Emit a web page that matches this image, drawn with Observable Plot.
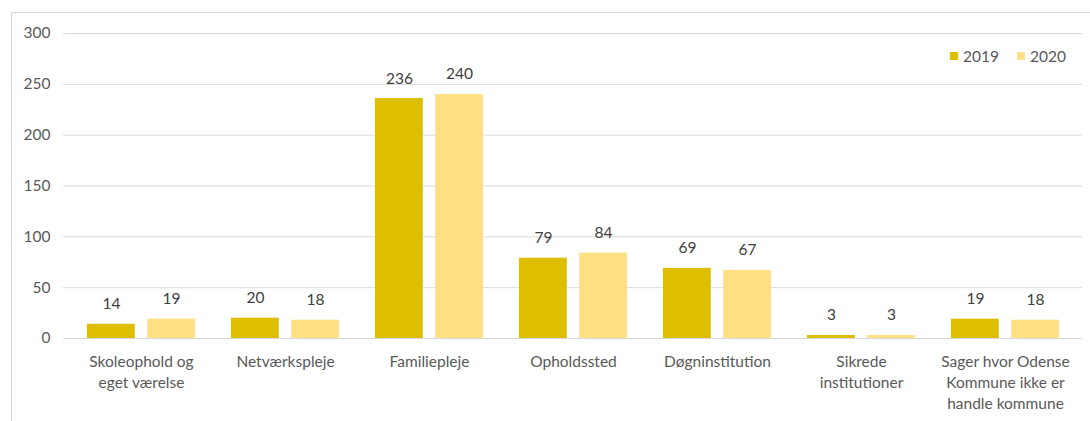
<!DOCTYPE html>
<html><head><meta charset="utf-8">
<script src="https://cdn.jsdelivr.net/npm/d3@7"></script>
<script src="https://cdn.jsdelivr.net/npm/@observablehq/plot@0.6"></script>
<style>
body{margin:0;background:#fff;}
#wrap{position:relative;width:1090px;height:421px;overflow:hidden;font-family:Lato,"Open Sans",sans-serif;}
#frame{position:absolute;left:11px;top:12px;width:1090px;height:421px;border:1px solid #d9d9d9;box-sizing:border-box;}
#chart{position:absolute;left:0;top:0;}
#legend{position:absolute;top:47px;left:950px;font-size:15.5px;color:#595959;display:flex;align-items:center;}
#legend .item{display:flex;align-items:center;margin-right:18px;}
#legend .sw{width:8px;height:8px;margin-right:5px;display:inline-block;}
</style>
</head><body>
<div id="wrap"><div id="frame"></div><div id="chart"></div><div id="legend"></div></div>
<script>
const categories = ["Skoleophold og eget værelse","Netværkspleje","Familiepleje","Opholdssted","Døgninstitution","Sikrede institutioner","Sager hvor Odense Kommune ikke er handle kommune"];
const categoryLabels = ["Skoleophold og\neget værelse","Netværkspleje","Familiepleje","Opholdssted","Døgninstitution","Sikrede\ninstitutioner","Sager hvor Odense\nKommune ikke er\nhandle kommune"];
const years = ["2019","2020"];
const values2019 = [14,20,236,79,69,3,19];
const values2020 = [19,18,240,84,67,3,18];
const yTicks = [0,50,100,150,200,250,300];
const colors = ["#DDBE00","#FFE085"];

const W = 1090, H = 421, mL = 63, mR = 8, mT = 33, mB = 83;
const pIn = 0.25, pOut = 0.15, gap = 12;
const FS = 15.5;
const band = d3.scaleBand().domain(categories).range([mL, W - mR]).paddingInner(pIn).paddingOuter(pOut);
const bw = band.bandwidth();
const inset = (bw + gap) / 2;
const off = (bw - gap) / 4 + gap / 2;

const d19 = categories.map((c,i) => ({cat:c, v:values2019[i]}));
const d20 = categories.map((c,i) => ({cat:c, v:values2020[i]}));
const labelOf = new Map(categories.map((c,i)=>[c, categoryLabels[i]]));

const chart = Plot.plot({
  width: W, height: H, marginLeft: mL, marginRight: mR, marginTop: mT, marginBottom: mB,
  style: {fontFamily: "Lato, 'Open Sans', sans-serif", fontSize: FS + "px", color: "#595959", background: "transparent"},
  x: {domain: categories, paddingInner: pIn, paddingOuter: pOut, label: null, axis: null},
  y: {domain: [0,300], label: null, axis: null},
  marks: [
    Plot.ruleY(yTicks, {stroke: "#d9d9d9", strokeWidth: 1}),
    Plot.barY(d19, {x: "cat", y: "v", fill: colors[0], insetRight: inset}),
    Plot.barY(d20, {x: "cat", y: "v", fill: colors[1], insetLeft: inset}),
    Plot.text(d19, {x: "cat", y: "v", text: d => String(d.v), dx: -off, dy: -20, fill: "#404040", fontSize: FS}),
    Plot.text(d20, {x: "cat", y: "v", text: d => String(d.v), dx: off, dy: -20, fill: "#404040", fontSize: FS}),
    Plot.axisY({ticks: yTicks, tickSize: 0, tickPadding: 13, label: null, fill: "#595959", fontSize: FS}),
    Plot.axisX({tickSize: 0, tickPadding: 14, label: null, tickFormat: d => labelOf.get(d), lineHeight: 1.35, fill: "#595959", fontSize: FS})
  ]
});
document.getElementById("chart").appendChild(chart);

const legend = document.getElementById("legend");
years.forEach((y,i) => {
  const it = document.createElement("span");
  it.className = "item";
  const sw = document.createElement("span");
  sw.className = "sw"; sw.style.background = colors[i];
  it.appendChild(sw);
  it.appendChild(document.createTextNode(y));
  legend.appendChild(it);
});
</script>
</body></html>
